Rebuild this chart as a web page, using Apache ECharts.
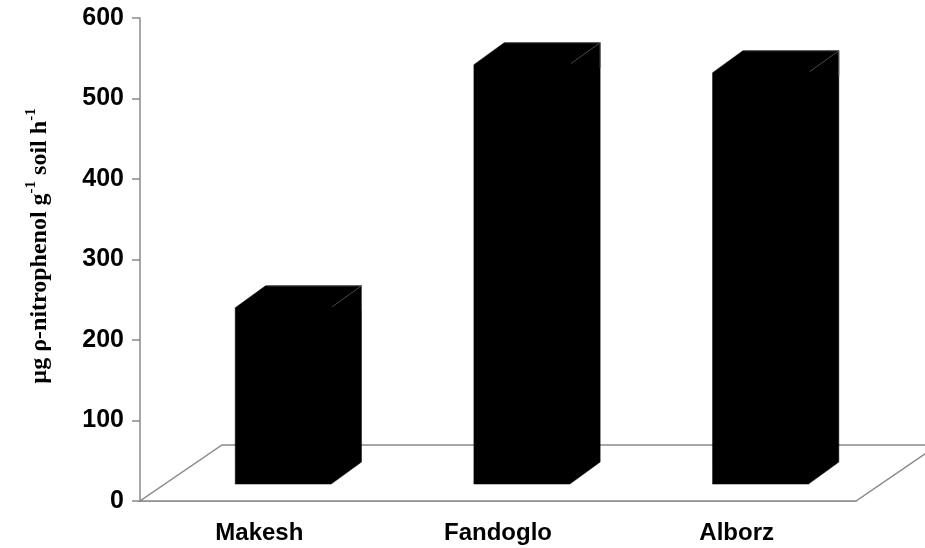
<!DOCTYPE html>
<html>
<head>
<meta charset="utf-8">
<script src="https://cdn.jsdelivr.net/npm/echarts@6/dist/echarts.min.js"></script>
<style>
  html, body { margin: 0; padding: 0; background: #fff; }
  #chart { width: 925px; height: 548px; }
</style>
</head>
<body>
<div id="chart"></div>
<script>
// 数据
const categories = ['Makesh', 'Fandoglo', 'Alborz']
const values = [219, 521, 511]
const yTicks = [0, 100, 200, 300, 400, 500, 600]

const axisGray = '#8a8a8a'

// 3D bar drawn from the category band and value coords
function renderBar (params, api) {
  const idx = api.value(0)
  const base = api.coord([idx, 0])
  const top = api.coord([idx, api.value(1)])
  const bw = api.size([1, 0])[0]
  const w = 0.402 * bw
  const shift = 0.1 * bw
  const lift = 0.071 * bw
  const dx = 0.127 * bw
  const dy = 0.092 * bw
  const L = base[0] + shift - w / 2
  const R = L + w
  const B = base[1] - lift
  const T = top[1] - lift
  return {
    type: 'group',
    children: [
      {
        type: 'polygon',
        shape: { points: [[L, B], [L, T], [L + dx, T - dy], [R + dx, T - dy], [R + dx, B - dy], [R, B]] },
        style: { fill: '#000', stroke: '#000', lineWidth: 0.5 }
      },
      { type: 'line', shape: { x1: R + 1, y1: T - 1, x2: R + dx, y2: T - dy }, style: { stroke: '#4a4a4a', lineWidth: 1 } },
      { type: 'polyline', shape: { points: [[L + dx + 2, T - dy], [R + dx, T - dy], [R + dx, T - dy + 25]] }, style: { stroke: '#5a5a5a', lineWidth: 1, fill: null } }
    ]
  }
}

// floor plane of the 3D chart
function renderFloor (params, api) {
  const cs = params.coordSys
  const y0 = cs.y + cs.height
  const ox = 82
  const oy = 56
  return {
    type: 'polygon',
    shape: { points: [[cs.x, y0], [cs.x + cs.width, y0], [cs.x + cs.width + ox, y0 - oy], [cs.x + ox, y0 - oy]] },
    style: { fill: '#fff', stroke: axisGray, lineWidth: 1.5 }
  }
}

const chart = echarts.init(document.getElementById('chart'))
chart.setOption({
  animation: false,
  backgroundColor: '#fff',
  grid: { left: 140, top: 18, width: 716, height: 483 },
  xAxis: {
    type: 'category',
    data: categories,
    axisLine: { lineStyle: { color: axisGray, width: 1.5 } },
    axisTick: { length: 7, lineStyle: { color: axisGray, width: 1.5 } },
    axisLabel: {
      margin: 20,
      color: '#000',
      fontFamily: 'Liberation Sans',
      fontWeight: 'bold',
      fontSize: 24
    }
  },
  yAxis: {
    type: 'value',
    min: yTicks[0],
    max: yTicks[yTicks.length - 1],
    interval: 100,
    axisLine: { show: true, lineStyle: { color: axisGray, width: 1.5 } },
    axisTick: { show: true, length: 8, lineStyle: { color: axisGray, width: 1.5 } },
    splitLine: { show: false },
    axisLabel: {
      margin: 16,
      color: '#000',
      fontFamily: 'Liberation Sans',
      fontWeight: 'bold',
      fontSize: 25
    }
  },
  graphic: [
    {
      type: 'text',
      x: 38,
      y: 246,
      rotation: Math.PI / 2,
      style: {
        text: '{a|µg ρ-nitrophenol g}{s|-1}{a| soil h}{s|-1}',
        align: 'center',
        verticalAlign: 'middle',
        fill: '#000',
        rich: {
          a: { fontFamily: 'Liberation Serif', fontWeight: 'bold', fontSize: 24, lineHeight: 28, verticalAlign: 'bottom' },
          s: { fontFamily: 'Liberation Serif', fontWeight: 'bold', fontSize: 15, lineHeight: 28, verticalAlign: 'top' }
        }
      }
    }
  ],
  series: [
    {
      type: 'custom',
      z: 1,
      renderItem: renderFloor,
      data: [0]
    },
    {
      type: 'custom',
      z: 2,
      renderItem: renderBar,
      encode: { x: 0, y: 1 },
      data: categories.map((c, i) => [i, values[i]])
    }
  ]
})
</script>
</body>
</html>
